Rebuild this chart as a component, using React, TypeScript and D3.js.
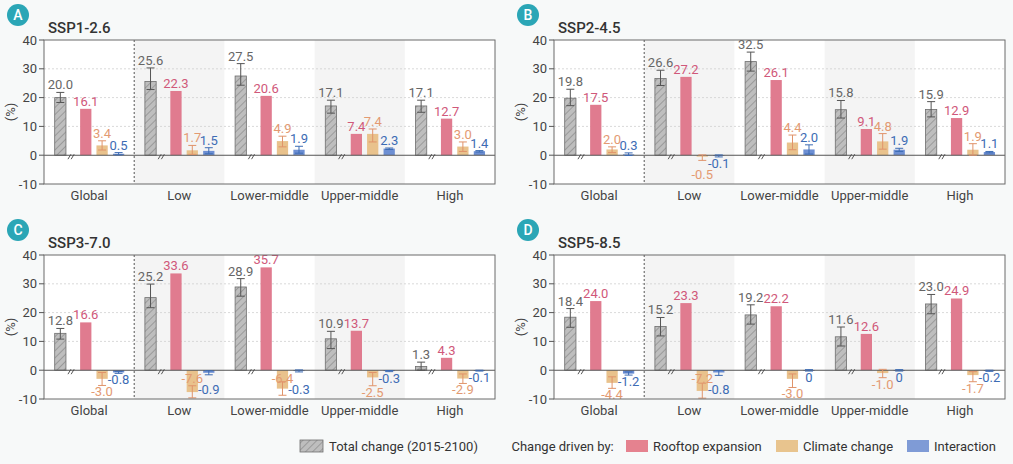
import * as d3 from 'd3';

// chart data ---------------------------------------------------------------
const groups = ['Global', 'Low', 'Lower-middle', 'Upper-middle', 'High'];
const scenarios = ['SSP1-2.6', 'SSP2-4.5', 'SSP3-7.0', 'SSP5-8.5'];
const panelLetters = ['A', 'B', 'C', 'D'];
const yTicks = [-10, 0, 10, 20, 30, 40];
const gridTicks = [10, 20, 30];

// one row per scenario, one column per income group
const totalChange = [
    [20.0, 25.6, 27.5, 17.1, 17.1],
    [19.8, 26.6, 32.5, 15.8, 15.9],
    [12.8, 25.2, 28.9, 10.9, 1.3],
    [18.4, 15.2, 19.2, 11.6, 23.0],
];
const rooftopExpansion = [
    [16.1, 22.3, 20.6, 7.4, 12.7],
    [17.5, 27.2, 26.1, 9.1, 12.9],
    [16.6, 33.6, 35.7, 13.7, 4.3],
    [24.0, 23.3, 22.2, 12.6, 24.9],
];
const climateChange = [
    [3.4, 1.7, 4.9, 7.4, 3.0],
    [2.0, -0.5, 4.4, 4.8, 1.9],
    [-3.0, -7.6, -6.4, -2.5, -2.9],
    [-4.4, -7.2, -3.0, -1.0, -1.7],
];
const interaction = [
    [0.5, 1.5, 1.9, 2.3, 1.4],
    [0.3, -0.1, 2.0, 1.9, 1.1],
    [-0.8, -0.9, -0.3, -0.3, -0.1],
    [-1.2, -0.8, 0, 0, -0.2],
];

// uncertainty ranges [low, high]
const totalRange = [
    [[18.3, 21.8], [22.8, 30.3], [24.3, 31.8], [14.6, 19.1], [14.9, 19.1]],
    [[17.2, 22.9], [24.2, 29.5], [29.2, 35.8], [12.9, 19.0], [13.3, 18.6]],
    [[10.8, 14.5], [21.7, 29.9], [25.7, 31.8], [7.5, 13.5], [0.0, 2.8]],
    [[14.9, 21.4], [11.9, 18.3], [16.0, 22.7], [8.4, 15.0], [19.6, 26.3]],
];
const climateRange = [
    [[1.8, 5.0], [0.3, 3.4], [2.9, 6.6], [4.6, 9.1], [1.3, 4.6]],
    [[0.9, 2.9], [-1.8, 0.1], [1.9, 7.0], [2.1, 7.5], [0.0, 4.0]],
    [[-5.3, -0.8], [-9.6, -5.4], [-8.7, -4.0], [-5.4, -0.8], [-4.6, -1.3]],
    [[-6.3, -2.3], [-9.7, -4.5], [-6.0, -1.3], [-2.6, 0.3], [-4.0, -0.5]],
];
const interactionRange = [
    [[0.1, 0.9], [0.5, 2.6], [0.7, 3.1], [2.0, 2.5], [1.1, 1.6]],
    [[-0.1, 0.8], [-0.6, 0.1], [0.4, 3.6], [1.3, 2.4], [0.8, 1.3]],
    [[-1.1, -0.4], [-1.6, -0.2], [-0.6, 0.1], [-0.5, -0.1], [-0.3, 0.0]],
    [[-1.7, -0.6], [-1.8, -0.1], [-0.3, 0.2], [-0.3, 0.2], [-0.4, 0.0]],
];

const seriesKeys = ['total', 'rooftop', 'climate', 'interaction'];
const legendLabels = ['Total change (2015-2100)', 'Rooftop expansion', 'Climate change', 'Interaction'];

// layout / style ---------------------------------------------------------
const W = 1013;
const H = 464;
const plotW = 451;
const plotH = 144;
const panelOrigins = [[0, 0], [510, 0], [0, 215], [510, 215]];
const shadedGroups = ['Low', 'Upper-middle'];

const barColor: Record<string, string> = {
    total: '#bebebe',
    rooftop: '#e07b8f',
    climate: '#e9c28c',
    interaction: '#6d8fd3',
};
const labelColor: Record<string, string> = {
    total: '#666666',
    rooftop: '#d0587a',
    climate: '#e39a72',
    interaction: '#3d6cb4',
};
const errColor: Record<string, string> = {
    total: '#555555',
    climate: '#e0936a',
    interaction: '#3d6cb4',
};
const legendColor = ['#bebebe', '#e5828f', '#e8c48e', '#7f9bd6'];
const legendX = [300, 626, 776, 907];

const font = 'Roboto, "Noto Sans", sans-serif';

const x = d3.scaleBand<string>().domain(groups).range([0, plotW]);
const y = d3.scaleLinear().domain([-10, 40]).range([plotH, 0]);
const slot = d3
    .scaleOrdinal<string, number>()
    .domain(seriesKeys)
    .range([0.181, 0.463, 0.644, 0.827]);
const breakPos = 0.3;

const fmt = (v: number) => (v === 0 ? '0' : v.toFixed(1));

// rough Roboto 13px advance widths
function textWidth(s: string) {
    let w = 0;
    for (const c of s) w += c === '.' ? 3.4 : c === '-' ? 3.8 : 7.3;
    return w;
}

type Label = {
    key: string;
    cx: number;
    text: string;
    base: number;
    w: number;
    neg: boolean;
    fallback: boolean;
};

function overlaps(a: Label, b: Label) {
    const h = 9.5;
    const ax0 = a.cx - a.w / 2 + 1, ax1 = a.cx + a.w / 2 - 1;
    const bx0 = b.cx - b.w / 2 + 1, bx1 = b.cx + b.w / 2 - 1;
    if (ax1 <= bx0 || bx1 <= ax0) return false;
    return !(a.base <= b.base - h || b.base <= a.base - h);
}

function Panel({ idx }: { idx: number }) {
    const [ox, oy] = panelOrigins[idx];
    const bw = x.bandwidth();
    const barW = bw * 0.125;

    const rows = groups.map((g, gi) => {
        const vals: Record<string, number> = {
            total: totalChange[idx][gi],
            rooftop: rooftopExpansion[idx][gi],
            climate: climateChange[idx][gi],
            interaction: interaction[idx][gi],
        };
        const errs: Record<string, number[] | undefined> = {
            total: totalRange[idx][gi],
            rooftop: undefined,
            climate: climateRange[idx][gi],
            interaction: interactionRange[idx][gi],
        };
        const x0 = x(g) ?? 0;

        // value labels
        const labels: Label[] = seriesKeys.map((k) => {
            const v = vals[k];
            const e = errs[k];
            const cx = x0 + bw * slot(k);
            const text = fmt(v);
            const w = textWidth(text);
            if (v > 0) {
                const top = y(e ? e[1] : v);
                return { key: k, cx, text, base: top - 3, w, neg: false, fallback: false };
            }
            const bottom = y(e ? e[0] : v);
            let base = bottom + 11;
            let fallback = false;
            if (base > plotH + 2) {
                base = y(0) + 12.5;
                fallback = true;
            }
            return { key: k, cx, text, base, w, neg: true, fallback };
        });
        // positive labels: push later ones upward
        const pos = labels.filter((l) => !l.neg);
        pos.forEach((l, i) => {
            for (let j = 0; j < i; j++) {
                if (overlaps(l, pos[j])) l.base = pos[j].base - 10;
            }
        });
        // negative labels: climate vs interaction
        const c = labels[2];
        const it = labels[3];
        if (c.neg && it.neg && overlaps(c, it)) {
            if (c.fallback) it.base = c.base + 11;
            else c.base = it.base + 11;
        }

        return { g, x0, vals, errs, labels };
    });

    return (
        <g>
            <circle cx={ox + 18} cy={oy + 15} r={11} fill="#2ba6b6" />
            <text
                x={ox + 18}
                y={oy + 15}
                textAnchor="middle"
                dominantBaseline="central"
                fill="#ffffff"
                fontSize={14}
                fontWeight={500}
                fontFamily={font}
            >
                {panelLetters[idx]}
            </text>
            <text x={ox + 48} y={oy + 33} fontSize={15} fontWeight={500} fill="#333" fontFamily={font}>
                {scenarios[idx]}
            </text>
            <text
                transform={`translate(${ox + 10},${oy + 40 + plotH / 2}) rotate(-90)`}
                textAnchor="middle"
                dominantBaseline="central"
                fontSize={13}
                fill="#444"
                fontFamily={font}
            >
                (%)
            </text>

            <g transform={`translate(${ox + 44},${oy + 40})`} fontFamily={font}>
                <rect x={0} y={0} width={plotW} height={plotH} fill="#ffffff" />
                {shadedGroups.map((g) => (
                    <rect key={g} x={x(g)} y={0} width={bw} height={plotH} fill="#f4f4f4" />
                ))}
                {gridTicks.map((t) => (
                    <line
                        key={t}
                        x1={0}
                        x2={plotW}
                        y1={y(t)}
                        y2={y(t)}
                        stroke="#cfcfcf"
                        strokeWidth={0.8}
                        strokeDasharray="2,2"
                    />
                ))}
                <line
                    x1={x('Low')}
                    x2={x('Low')}
                    y1={0}
                    y2={plotH}
                    stroke="#555"
                    strokeWidth={1}
                    strokeDasharray="2,2"
                />

                {rows.map((r) => (
                    <g key={r.g}>
                        {seriesKeys.map((k) => {
                            const v = r.vals[k];
                            const cx = r.x0 + bw * slot(k);
                            const y1 = y(Math.max(v, 0));
                            const y2 = y(Math.min(v, 0));
                            return (
                                <rect
                                    key={k}
                                    x={cx - barW / 2}
                                    y={y1}
                                    width={barW}
                                    height={Math.max(y2 - y1, 0.8)}
                                    fill={k === 'total' ? 'url(#hatch)' : barColor[k]}
                                    stroke={k === 'total' ? '#6e6e6e' : 'none'}
                                    strokeWidth={0.8}
                                />
                            );
                        })}
                    </g>
                ))}

                {/* zero line */}
                <line x1={0} x2={plotW} y1={y(0)} y2={y(0)} stroke="#555" strokeWidth={1.1} />

                {rows.map((r) => (
                    <g key={r.g + '-err'}>
                        {seriesKeys.map((k) => {
                            const e = r.errs[k];
                            if (!e) return null;
                            const cx = r.x0 + bw * slot(k);
                            const cap = 4;
                            return (
                                <g key={k} stroke={errColor[k]} strokeWidth={1}>
                                    <line x1={cx} x2={cx} y1={y(e[0])} y2={y(e[1])} />
                                    <line x1={cx - cap} x2={cx + cap} y1={y(e[0])} y2={y(e[0])} />
                                    <line x1={cx - cap} x2={cx + cap} y1={y(e[1])} y2={y(e[1])} />
                                </g>
                            );
                        })}
                        {/* axis break mark between total and drivers */}
                        {[-1.6, 1.6].map((d) => {
                            const bx = r.x0 + bw * breakPos + d;
                            const by = y(0) + 1.5;
                            return (
                                <line
                                    key={d}
                                    x1={bx - 1.5}
                                    x2={bx + 1.5}
                                    y1={by + 2.5}
                                    y2={by - 2.5}
                                    stroke="#444"
                                    strokeWidth={0.9}
                                />
                            );
                        })}
                        {r.labels.map((l) => (
                            <text
                                key={l.key}
                                x={l.cx}
                                y={l.base}
                                textAnchor="middle"
                                fontSize={13}
                                fill={labelColor[l.key]}
                            >
                                {l.text}
                            </text>
                        ))}
                    </g>
                ))}

                <rect x={0} y={0} width={plotW} height={plotH} fill="none" stroke="#6b6b6b" strokeWidth={1} />

                {yTicks.map((t) => (
                    <g key={t}>
                        <line x1={-5} x2={0} y1={y(t)} y2={y(t)} stroke="#555" />
                        <text
                            x={-7}
                            y={y(t)}
                            textAnchor="end"
                            dominantBaseline="central"
                            fontSize={13}
                            fill="#444"
                        >
                            {t}
                        </text>
                    </g>
                ))}
                {groups.map((g) => (
                    <text
                        key={g}
                        x={(x(g) ?? 0) + bw / 2}
                        y={plotH + 16}
                        textAnchor="middle"
                        fontSize={13}
                        fill="#444"
                    >
                        {g}
                    </text>
                ))}
            </g>
        </g>
    );
}

export default function App() {
    const legendY = 446;
    return (
        <svg
            width={W}
            height={H}
            viewBox={`0 0 ${W} ${H}`}
            style={{ position: 'absolute', left: 0, top: 0 }}
        >
            <defs>
                <pattern
                    id="hatch"
                    width={5}
                    height={5}
                    patternUnits="userSpaceOnUse"
                    patternTransform="rotate(45)"
                >
                    <rect width={5} height={5} fill="#bebebe" />
                    <line x1={0} x2={0} y1={0} y2={5} stroke="#6e6e6e" strokeWidth={0.9} />
                </pattern>
            </defs>
            <rect width={W} height={H} fill="#f7f9f9" />
            {scenarios.map((s, i) => (
                <Panel key={s} idx={i} />
            ))}

            <g fontFamily={font} fontSize={13} fill="#333">
                {legendLabels.map((lab, i) => (
                    <g key={lab}>
                        <rect
                            x={legendX[i]}
                            y={legendY - 6}
                            width={i === 0 ? 23 : 22}
                            height={12}
                            fill={i === 0 ? 'url(#hatch)' : legendColor[i]}
                            stroke={i === 0 ? '#6e6e6e' : 'none'}
                            strokeWidth={0.8}
                        />
                        <text x={legendX[i] + (i === 0 ? 29 : 27)} y={legendY} dominantBaseline="central">
                            {lab}
                        </text>
                    </g>
                ))}
                <text x={511.5} y={legendY} dominantBaseline="central">
                    Change driven by:
                </text>
            </g>
        </svg>
    );
}
